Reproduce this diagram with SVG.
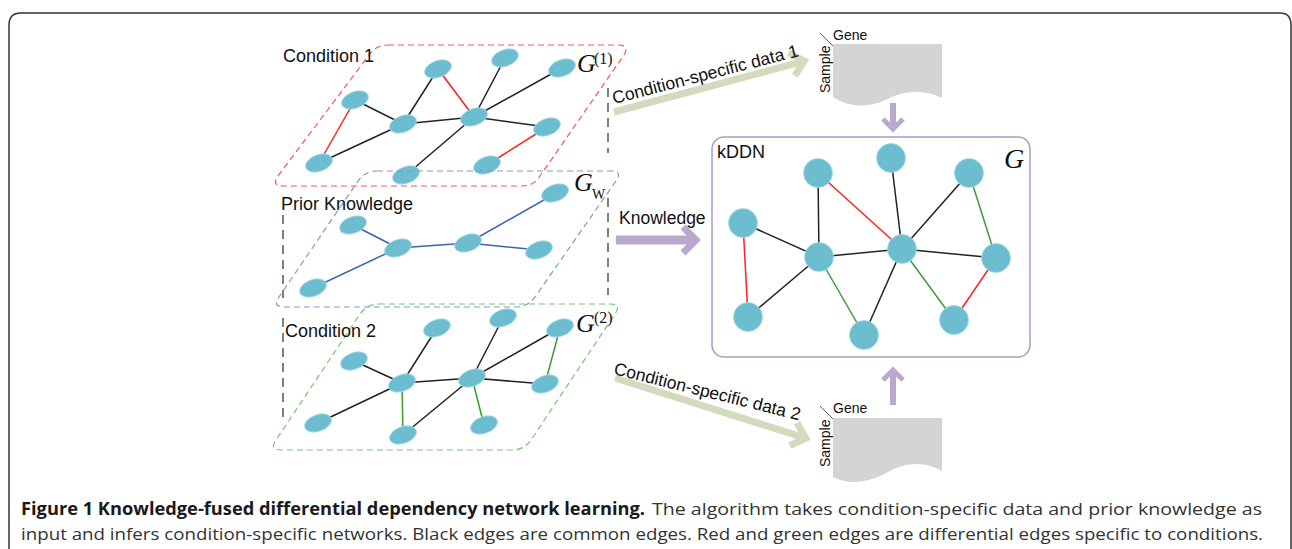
<svg xmlns="http://www.w3.org/2000/svg" width="1292" height="549" viewBox="0 0 1292 549">
<style>
.n{fill:#6cbdd0;stroke:#a8dbe6;stroke-width:0.8}
.e{stroke:#222;stroke-width:1.5;fill:none}
.r{stroke:#ff2020;stroke-width:1.5;fill:none}
.g{stroke:#3a9a34;stroke-width:1.5;fill:none}
.b{stroke:#3a64b4;stroke-width:1.5;fill:none}
.lbl{font-family:"Liberation Sans",Arial,sans-serif;font-size:18px;fill:#111}
.gl{font-family:"Liberation Serif","Times New Roman",serif;fill:#111}
.dk{stroke:#555;stroke-width:1.5;stroke-dasharray:9 6;fill:none}
.ol{stroke:#d4dabd;fill:none;stroke-width:7;stroke-linejoin:miter}
.pu{stroke:#b9a9cd;fill:none;stroke-linejoin:miter}
.doc{fill:#d4d4d4}
.small{font-family:"Liberation Sans",Arial,sans-serif;font-size:14px;fill:#111}
.cap{font-family:"Open Sans","Liberation Sans",sans-serif;font-size:17px}
</style>
<g id="frame"><path d="M9,549 V25 Q9,13 21,13 H1280 Q1291,13 1291,25 V549" fill="none" stroke="#333" stroke-width="1.5"/></g>

<g id="connectors">
  <line class="dk" x1="608" y1="88" x2="608" y2="153"/>
  <line class="dk" x1="608" y1="198" x2="608" y2="295"/>
  <line class="dk" x1="283" y1="215" x2="283" y2="298"/>
  <line class="dk" x1="283" y1="318" x2="283" y2="420"/>
  <g transform="translate(614,112) rotate(-15)"><line class="ol" x1="0" y1="0" x2="194" y2="0"/><polyline class="ol" points="184,-12 197,0 184,12"/></g>
  <g transform="translate(615,378) rotate(17.5)"><line class="ol" x1="0" y1="0" x2="198" y2="0"/><polyline class="ol" points="187,-12 200,0 187,12"/></g>
  <line class="pu" stroke-width="9" x1="616" y1="240" x2="693" y2="240"/>
  <polyline class="pu" stroke-width="7" points="683,227 696,240 683,253"/>
  <line class="pu" stroke-width="6" x1="893" y1="103" x2="893" y2="127"/>
  <polyline class="pu" stroke-width="5" points="883,119 893,129 903,119"/>
  <line class="pu" stroke-width="6" x1="893" y1="405" x2="893" y2="373"/>
  <polyline class="pu" stroke-width="5" points="883,380 893,370 903,380"/>
  <text class="lbl" style="font-size:17.5px" transform="translate(614,104) rotate(-14.5)">Condition-specific data 1</text>
  <text class="lbl" style="font-size:17.5px" transform="translate(613,374) rotate(14)">Condition-specific data 2</text>
  <text class="lbl" style="font-size:17.5px" x="619" y="224">Knowledge</text>
</g>

<g id="cond1">
  <path d="M388,45 L618,45 Q630,45 624,55 L540,176 Q534,186 522,186 L283,186 Q271,186 278,176 L369,55 Q376,45 388,45 Z" fill="none" stroke="#f25858" stroke-width="1.2" stroke-dasharray="6 4"/>
  <text class="lbl" x="283" y="62">Condition 1</text>
  <text class="gl" x="577" y="72" font-size="26" font-style="italic">G</text>
  <text class="gl" x="594" y="64" font-size="16">(1)</text>
  <g id="c1-edges">
    <line class="r" x1="438" y1="69" x2="474" y2="117"/>
    <line class="e" x1="505" y1="58" x2="474" y2="117"/>
    <line class="e" x1="562" y1="68" x2="474" y2="117"/>
    <line class="e" x1="355" y1="100" x2="403" y2="124"/>
    <line class="e" x1="403" y1="124" x2="438" y2="69"/>
    <line class="e" x1="403" y1="124" x2="474" y2="117"/>
    <line class="e" x1="474" y1="117" x2="547" y2="127"/>
    <line class="r" x1="355" y1="100" x2="319" y2="163"/>
    <line class="e" x1="319" y1="163" x2="403" y2="124"/>
    <line class="e" x1="474" y1="117" x2="406" y2="175"/>
    <line class="r" x1="547" y1="127" x2="487" y2="165"/>
  </g>
  <g id="c1-a"><ellipse class="n" cx="438" cy="69" rx="14" ry="8.3" transform="rotate(-20 438 69)"/></g>
  <g id="c1-b"><ellipse class="n" cx="505" cy="58" rx="14" ry="8.3" transform="rotate(-20 505 58)"/></g>
  <g id="c1-c"><ellipse class="n" cx="562" cy="68" rx="14" ry="8.3" transform="rotate(-20 562 68)"/></g>
  <g id="c1-d"><ellipse class="n" cx="355" cy="100" rx="14" ry="8.3" transform="rotate(-20 355 100)"/></g>
  <g id="c1-e"><ellipse class="n" cx="403" cy="124" rx="14" ry="8.3" transform="rotate(-20 403 124)"/></g>
  <g id="c1-f"><ellipse class="n" cx="474" cy="117" rx="14" ry="8.3" transform="rotate(-20 474 117)"/></g>
  <g id="c1-g"><ellipse class="n" cx="547" cy="127" rx="14" ry="8.3" transform="rotate(-20 547 127)"/></g>
  <g id="c1-h"><ellipse class="n" cx="319" cy="163" rx="14" ry="8.3" transform="rotate(-20 319 163)"/></g>
  <g id="c1-i"><ellipse class="n" cx="406" cy="175" rx="14" ry="8.3" transform="rotate(-20 406 175)"/></g>
  <g id="c1-j"><ellipse class="n" cx="487" cy="165" rx="14" ry="8.3" transform="rotate(-20 487 165)"/></g>
</g>

<g id="prior">
  <path d="M377,171 L611,171 Q623,171 616,181 L535,297 Q528,307 516,307 L284,307 Q272,307 279,297 L358,181 Q365,171 377,171 Z" fill="none" stroke="#7b9bd3" stroke-width="1.2" stroke-dasharray="6 4"/>
  <text class="lbl" x="281" y="210">Prior Knowledge</text>
  <text class="gl" x="574" y="191" font-size="26" font-style="italic">G</text>
  <text class="gl" x="592" y="199" font-size="14">W</text>
  <g id="p-edges">
    <line class="b" x1="353" y1="225" x2="398" y2="248"/>
    <line class="b" x1="398" y1="248" x2="468" y2="243"/>
    <line class="b" x1="468" y1="243" x2="539" y2="250"/>
    <line class="b" x1="468" y1="243" x2="558" y2="192"/>
    <line class="b" x1="398" y1="248" x2="313" y2="288"/>
  </g>
  <g id="p-1"><ellipse class="n" cx="353" cy="225" rx="14" ry="8.3" transform="rotate(-20 353 225)"/></g>
  <g id="p-2"><ellipse class="n" cx="398" cy="248" rx="14" ry="8.3" transform="rotate(-20 398 248)"/></g>
  <g id="p-3"><ellipse class="n" cx="468" cy="243" rx="14" ry="8.3" transform="rotate(-20 468 243)"/></g>
  <g id="p-4"><ellipse class="n" cx="539" cy="250" rx="14" ry="8.3" transform="rotate(-20 539 250)"/></g>
  <g id="p-5"><ellipse class="n" cx="555" cy="193" rx="14" ry="8.3" transform="rotate(-20 555 193)"/></g>
  <g id="p-6"><ellipse class="n" cx="313" cy="288" rx="14" ry="8.3" transform="rotate(-20 313 288)"/></g>
</g>

<g id="cond2">
  <path d="M379,304 L610,304 Q622,304 615,314 L531,440 Q524,450 512,450 L281,450 Q269,450 276,440 L360,314 Q367,304 379,304 Z" fill="none" stroke="#78c46a" stroke-width="1.2" stroke-dasharray="6 4"/>
  <text class="lbl" x="285" y="337">Condition 2</text>
  <text class="gl" x="576" y="332" font-size="26" font-style="italic">G</text>
  <text class="gl" x="594" y="323" font-size="16">(2)</text>
  <g id="c2-edges">
    <line class="e" x1="437" y1="328" x2="402" y2="383"/>
    <line class="e" x1="503" y1="318" x2="472" y2="378"/>
    <line class="e" x1="560" y1="328" x2="472" y2="378"/>
    <line class="e" x1="354" y1="361" x2="402" y2="383"/>
    <line class="e" x1="402" y1="383" x2="472" y2="378"/>
    <line class="e" x1="472" y1="378" x2="545" y2="384"/>
    <line class="g" x1="560" y1="328" x2="545" y2="384"/>
    <line class="e" x1="402" y1="383" x2="318" y2="423"/>
    <line class="g" x1="402" y1="383" x2="403" y2="435"/>
    <line class="e" x1="472" y1="378" x2="403" y2="435"/>
    <line class="g" x1="472" y1="378" x2="484" y2="425"/>
  </g>
  <g id="c2-1"><ellipse class="n" cx="437" cy="328" rx="14" ry="8.3" transform="rotate(-20 437 328)"/></g>
  <g id="c2-2"><ellipse class="n" cx="503" cy="318" rx="14" ry="8.3" transform="rotate(-20 503 318)"/></g>
  <g id="c2-3"><ellipse class="n" cx="560" cy="328" rx="14" ry="8.3" transform="rotate(-20 560 328)"/></g>
  <g id="c2-4"><ellipse class="n" cx="354" cy="361" rx="14" ry="8.3" transform="rotate(-20 354 361)"/></g>
  <g id="c2-5"><ellipse class="n" cx="402" cy="383" rx="14" ry="8.3" transform="rotate(-20 402 383)"/></g>
  <g id="c2-6"><ellipse class="n" cx="472" cy="378" rx="14" ry="8.3" transform="rotate(-20 472 378)"/></g>
  <g id="c2-7"><ellipse class="n" cx="545" cy="384" rx="14" ry="8.3" transform="rotate(-20 545 384)"/></g>
  <g id="c2-8"><ellipse class="n" cx="318" cy="423" rx="14" ry="8.3" transform="rotate(-20 318 423)"/></g>
  <g id="c2-9"><ellipse class="n" cx="403" cy="435" rx="14" ry="8.3" transform="rotate(-20 403 435)"/></g>
  <g id="c2-10"><ellipse class="n" cx="484" cy="425" rx="14" ry="8.3" transform="rotate(-20 484 425)"/></g>
</g>

<g id="data1">
  <path class="doc" d="M833,44 H942 V98 C925,89 905,90 888,99 C870,108 850,108 833,97 Z"/>
  <line x1="820" y1="33" x2="833" y2="46" stroke="#333" stroke-width="0.8"/>
  <text class="small" x="833" y="40">Gene</text>
  <text class="small" transform="translate(830,93) rotate(-90)">Sample</text>
</g>

<g id="data2">
  <path class="doc" d="M833,418 H942 V471 C925,461 905,462 888,472 C870,482 850,486 833,477 Z"/>
  <line x1="820" y1="406" x2="833" y2="419" stroke="#333" stroke-width="0.8"/>
  <text class="small" x="833" y="413">Gene</text>
  <text class="small" transform="translate(830,467) rotate(-90)">Sample</text>
</g>

<g id="kddn">
  <rect x="712" y="137" width="318" height="220" rx="12" fill="#fff" stroke="#a99bc4" stroke-width="1.5"/>
  <text class="lbl" x="717" y="158">kDDN</text>
  <text class="gl" x="1004" y="168" font-size="28" font-style="italic">G</text>
  <g id="k-edges">
    <line class="e" x1="891" y1="158" x2="902" y2="249"/>
    <line class="e" x1="818" y1="173" x2="819" y2="257"/>
    <line class="r" x1="818" y1="173" x2="902" y2="249"/>
    <line class="e" x1="969" y1="173" x2="902" y2="249"/>
    <line class="g" x1="969" y1="173" x2="996" y2="258"/>
    <line class="e" x1="743" y1="223" x2="819" y2="257"/>
    <line class="r" x1="743" y1="223" x2="748" y2="317"/>
    <line class="e" x1="819" y1="257" x2="748" y2="317"/>
    <line class="e" x1="819" y1="257" x2="902" y2="249"/>
    <line class="e" x1="902" y1="249" x2="996" y2="258"/>
    <line class="g" x1="819" y1="257" x2="864" y2="335"/>
    <line class="e" x1="902" y1="249" x2="864" y2="335"/>
    <line class="g" x1="902" y1="249" x2="954" y2="320"/>
    <line class="r" x1="996" y1="258" x2="954" y2="320"/>
  </g>
  <g id="k-1"><circle class="n" cx="891" cy="158" r="14.5"/></g>
  <g id="k-2"><circle class="n" cx="818" cy="173" r="14.5"/></g>
  <g id="k-3"><circle class="n" cx="969" cy="173" r="14.5"/></g>
  <g id="k-4"><circle class="n" cx="743" cy="223" r="14.5"/></g>
  <g id="k-5"><circle class="n" cx="819" cy="257" r="14.5"/></g>
  <g id="k-6"><circle class="n" cx="902" cy="249" r="14.5"/></g>
  <g id="k-7"><circle class="n" cx="996" cy="258" r="14.5"/></g>
  <g id="k-8"><circle class="n" cx="748" cy="317" r="14.5"/></g>
  <g id="k-9"><circle class="n" cx="864" cy="335" r="14.5"/></g>
  <g id="k-10"><circle class="n" cx="954" cy="320" r="14.5"/></g>
</g>

<g id="caption">
  <text class="cap" x="21" y="515" font-weight="bold" fill="#1a1a1a" textLength="624" lengthAdjust="spacingAndGlyphs">Figure 1 Knowledge-fused differential dependency network learning.</text>
  <text class="cap" x="652" y="515" fill="#333" textLength="610" lengthAdjust="spacingAndGlyphs">The algorithm takes condition-specific data and prior knowledge as</text>
  <text class="cap" x="21" y="540" fill="#333" textLength="1242" lengthAdjust="spacingAndGlyphs">input and infers condition-specific networks. Black edges are common edges. Red and green edges are differential edges specific to conditions.</text>
</g>
</svg>
